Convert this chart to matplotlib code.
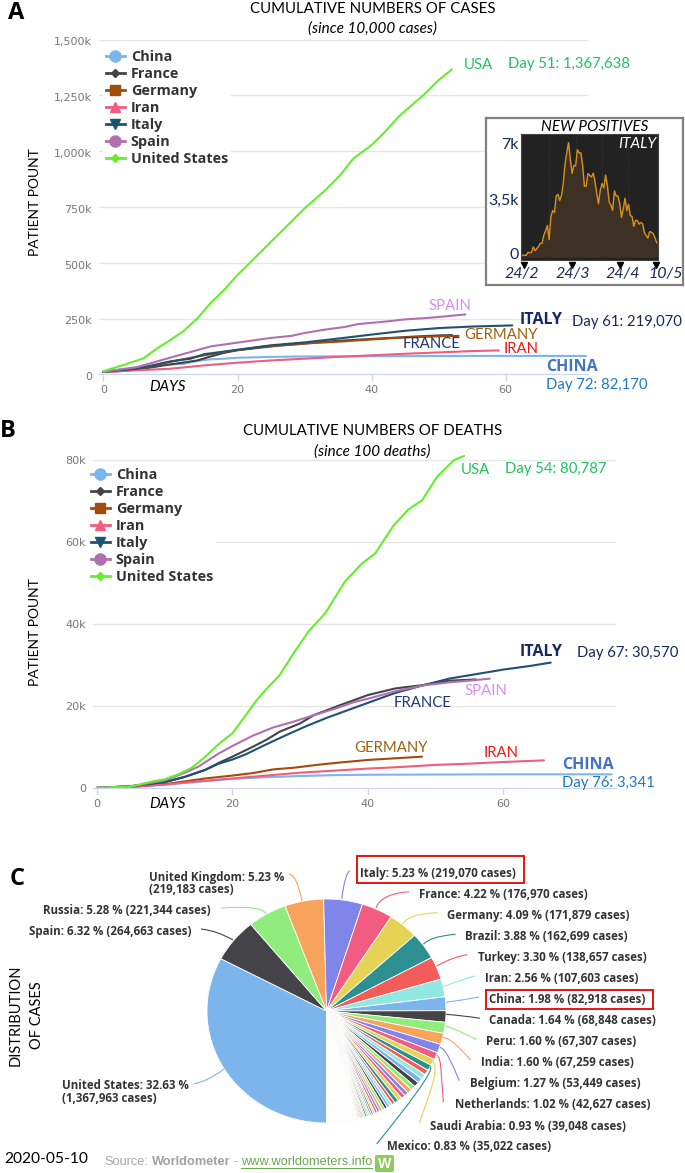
import matplotlib
matplotlib.use("Agg")
import matplotlib.pyplot as plt
from matplotlib.lines import Line2D
from matplotlib.path import Path
from matplotlib.patches import PathPatch, Rectangle, FancyBboxPatch
from matplotlib.transforms import ScaledTranslation

W, H = 685, 1173

# panel A, cases in thousands
china_days_a = [0,2,4,6,8,10,12,14,16,18,20,25,30,40,50,60,72]
china_a = [12,20,27,34,40,44,47,60,67,70,74,78,80,81,82,82.5,82.2]
france_days_a = [0,3,6,9,12,14,16,18,20,23,26,29,32,35,38,41,44,47,50,52]
france_a = [11,15,25,40,53,62,80,96,108,118,128,135,143,150,155,160,165,170,174,176]
germany_days_a = [0,3,6,9,12,15,18,21,24,27,30,35,40,45,50,53]
germany_a = [11,18,29,50,68,85,100,112,125,131,138,146,156,165,170,172]
iran_days_a = [0,5,10,15,20,25,30,35,40,45,50,55,59]
iran_a = [11,18,25,40,52,62,70,78,85,92,98,104,107]
italy_days_a = [0,5,10,13,15,20,25,30,35,40,45,50,55,61]
italy_a = [11,25,58,70,90,110,130,143,160,178,195,207,214,219]
spain_days_a = [0,5,10,13,16,20,25,28,30,33,36,38,42,45,49,54]
spain_a = [11,32,75,100,125,142,163,172,185,200,212,225,236,246,254,268]
us_days_a = [0,3,6,8,10,12,14,16,18,20,22,25,28,30,33,35.3,37.3,40,42,44,46,48,50,52]
us_a = [14,42,72,116,154,195,250,320,378,445,504,594,683,743,822,891,967,1027,1086,1153,1206,1258,1318,1366]

# panel B, deaths in thousands
china_days_b = [0,5,10,15,20,25,30,35,40,50,60,76]
china_b = [.1,.4,.9,1.6,2.3,2.7,3.0,3.2,3.3,3.35,3.4,3.4]
france_days_b = [0,5,10,13,16,18,20,23,25,27,30,32,36,40,44,48,52,56]
france_b = [.1,.5,1.5,2.8,4.5,6.2,7.7,10.1,11.8,13.8,15.8,17.8,20.3,22.7,24.3,25.1,26.2,26.5]
germany_days_b = [0,5,10,13,16,20,23,26,29,33,36,40,44,48]
germany_b = [.1,.3,1,1.7,2.4,3.1,3.7,4.6,5,5.8,6.3,6.9,7.3,7.7]
iran_days_b = [0,5,10,15,20,25,30,35,40,45,50,55,60,66]
iran_b = [.1,.4,.9,1.7,2.4,3.1,3.8,4.3,4.8,5.2,5.7,6,6.4,6.8]
italy_days_b = [0,5,10,13,16,18,20,22,25,28,31,34,37,40,44,48,52,56,60,64,67]
italy_b = [.1,.5,1.5,2.8,4.5,6,7,8.3,10.7,13,15.2,17.2,19,20.8,23.2,25,26.7,27.8,28.9,29.8,30.6]
spain_days_b = [0,5,10,13,15,18,20,23,26,29,32,35,38,40,44,48,52,55,58]
spain_b = [.1,.5,1.9,3.8,5.3,8.5,10.3,12.8,14.8,16.2,17.8,19.3,21,21.8,23.6,25,25.8,26.2,26.7]
us_days_b = [0,5,8,10,12,14,16,18,20,21.8,23.6,25.1,27,29,31.2,33.7,36.6,39.1,41.1,43.8,46,48,50.2,52.7,54.2]
us_b = [.1,.4,1.6,2.2,3.4,5,7.7,10.8,13.4,17.4,21.5,24.3,27.6,32.8,38.1,42.6,50.3,54.7,57.2,64,67.9,70.1,75.8,79.9,80.9]

# inset, Italy new positives 24/2 to 10/5
italy_new = [76,93,78,250,238,240,566,342,466,587,769,778,1247,1492,1797,977,2313,2651,2547,3497,
             3590,3233,3526,4207,5322,5986,6557,5560,4789,5249,5210,6153,5959,5974,5217,4050,4053,
             4782,4668,4585,4805,4316,3599,3039,3836,4204,3951,4694,4092,3153,2972,2667,3786,3493,
             3491,3047,2256,2729,3370,2646,3021,2357,2324,1739,2091,2086,1872,1965,1900,1389,1221,
             1075,1444,1401,1327,1083,802]

# panel C
pie_names = ["United States","Spain","Russia","United Kingdom","Italy","France","Germany","Brazil",
             "Turkey","Iran","China","Canada","Peru","India","Belgium","Netherlands","Saudi Arabia","Mexico"]
pie_pct = [32.63,6.32,5.28,5.23,5.23,4.22,4.09,3.88,3.30,2.56,1.98,1.64,1.60,1.60,1.27,1.02,.93,.83]
pie_cases = ["1,367,963","264,663","221,344","219,183","219,070","176,970","171,879","162,699",
             "138,657","107,603","82,918","68,848","67,307","67,259","53,449","42,627","39,048","35,022"]
pie_rest = [.73,.72,.72,.70,.66,.63,.57,.56,.56,.55,.44,.39,.39,.38,.37,.36,.35,.33,.26,.25,.24,.23,
            .22,.21,.20,.19,.18,.17,.16,.15] + [.06]*20 + [.04]*75
hc_colors = ["#7cb5ec","#434348","#90ed7d","#f7a35c","#8085e9","#f15c80","#e4d354","#2b908f","#f45b5b","#91e8e1"]

names = ["China","France","Germany","Iran","Italy","Spain","United States"]
colors = ["#7cb5ec","#434348","#a04c0c","#f15c80","#1d5273","#b070b0","#66ee2c"]
markers = ["o","D","s","^","v","o","D"]
msizes = [8,4.5,7,7,7,8,4.5]

NAVY = "#13295f"
BLUE2 = "#1f3a7a"
GREEN = "#1fc25f"
LILAC = "#d98cf5"
BROWN = "#a0620f"
RED = "#f01818"
CHINA = "#4472c4"
CHINA2 = "#1f78c4"
BOLD = "Open Sans"
plt.rcParams["font.family"] = "Lato"

fig = plt.figure(figsize=(W/100, H/100), dpi=100)

def px_axes(l, t, r, b, **kw):
    return fig.add_axes([l/W, 1-b/H, (r-l)/W, (b-t)/H], **kw)

def cum_axes(rect, xlim, ymax, yticks, ylabels, series, lw_pt, legend_xy, dy):
    ax = px_axes(*rect, zorder=1)
    ax.set_xlim(*xlim)
    ax.set_ylim(0, ymax)
    ax.grid(axis="y", color="#e6e6e6", lw=1)
    ax.set_axisbelow(True)
    for s in ["top","left","right"]:
        ax.spines[s].set_visible(False)
    ax.spines["bottom"].set_color("#ccd6eb")
    ax.set_xticks([0,20,40,60])
    ax.set_yticks(yticks)
    ax.set_yticklabels(ylabels)
    ax.tick_params(axis="x", length=5, width=1, color="#ccd6eb", labelcolor="#777777", labelsize=8, pad=3)
    ax.tick_params(axis="y", length=0, labelcolor="#777777", labelsize=8, pad=5)
    for lab in ax.get_xticklabels() + ax.get_yticklabels():
        lab.set_family("DejaVu Sans")
    for lab in ax.get_yticklabels():
        lab.set_transform(lab.get_transform() + ScaledTranslation(0, -dy/100, fig.dpi_scale_trans))
    for (d, v), c in zip(series, colors):
        ax.plot(d, v, color=c, lw=lw_pt, solid_capstyle="round", solid_joinstyle="round", clip_on=False)
    handles = [Line2D([], [], color=c, lw=2, marker=m, ms=s) for c, m, s in zip(colors, markers, msizes)]
    leg = ax.legend(handles, names, loc="upper left", bbox_to_anchor=(legend_xy[0]/W, 1-legend_xy[1]/H),
                    bbox_transform=fig.transFigure, handlelength=1.3, handletextpad=.42, labelspacing=.21,
                    borderpad=.2, borderaxespad=0, fancybox=False, framealpha=1, edgecolor="none",
                    prop={"family":BOLD,"weight":"bold","size":10.4})
    for t in leg.get_texts():
        t.set_color("#333333")
    return ax

series_a = [(china_days_a,china_a),(france_days_a,france_a),(germany_days_a,germany_a),(iran_days_a,iran_a),
            (italy_days_a,italy_a),(spain_days_a,spain_a),(us_days_a,us_a)]
series_b = [(china_days_b,china_b),(france_days_b,france_b),(germany_days_b,germany_b),(iran_days_b,iran_b),
            (italy_days_b,italy_b),(spain_days_b,spain_b),(us_days_b,us_b)]

cum_axes((99,39.5,588,374.3), (-0.67,72.3), 1500, [0,250,500,750,1000,1250,1500],
         ["0","250k","500k","750k","1,000k","1,250k","1,500k"], series_a, 1.5, (103,47), 2)
cum_axes((93,459.7,615.7,788.3), (-0.59,76.6), 80, [0,20,40,60,80],
         ["0","20k","40k","60k","80k"], series_b, 1.5, (88,465), 0)

# inset frame and chart
box = px_axes(486,117.7,683.3,285, zorder=2)
box.set_xticks([]); box.set_yticks([])
for s in box.spines.values():
    s.set_color("#808080"); s.set_linewidth(1.6)

ins = px_axes(521,134,658.3,260, zorder=3, facecolor="#222222")
days_new = list(range(len(italy_new)))
ins.fill_between(days_new, italy_new, color="#3d3024", zorder=2)
ins.plot(days_new, italy_new, color="#d8901c", lw=1, zorder=3)
ins.set_xlim(-0.96,76.9)
ins.set_ylim(-190,7056)
ins.set_xticks([15,30,45,60])
ins.set_xticklabels([])
ins.set_yticks([])
ins.tick_params(length=0)
ins.grid(axis="x", color="#3a3a3a", ls=":", lw=.6, zorder=1)
for s in ins.spines.values():
    s.set_color("#444444")

# pie, slightly wider than tall as in the source image
pie = px_axes(207,899,446,1123, zorder=1)
vals = pie_pct + pie_rest
cols = [hc_colors[i % 10] for i in range(len(vals))]
pie.pie(vals, colors=cols, startangle=270, counterclock=False, radius=1,
        wedgeprops={"edgecolor":"white","linewidth":.6})
pie.set_aspect("auto")
pie.set_xlim(-1,1); pie.set_ylim(-1,1)

# overlay in pixel coordinates for the hand placed labels
ov = fig.add_axes([0,0,1,1], zorder=5)
ov.set_xlim(0,W); ov.set_ylim(H,0); ov.axis("off")

def T(x, y, s, size=11, color="black", ha="left", **kw):
    return ov.text(x, y, s, fontsize=size, color=color, ha=ha, va="center", **kw)

for s, x, y in [("A",16,13),("B",8,431),("C",17,879)]:
    T(x, y, s, size=17, ha="center", weight="bold", family=BOLD)

T(372.7, 9, "CUMULATIVE NUMBERS OF CASES", size=10.8, ha="center")
T(372.7, 29, "(since 10,000 cases)", size=11, ha="center", style="italic")
T(372.5, 431, "CUMULATIVE NUMBERS OF DEATHS", size=10.8, ha="center")
T(372.5, 451.5, "(since 100 deaths)", size=11, ha="center", style="italic")
for y in [202, 631.7]:
    T(35, y, "PATIENT POUNT", size=10, ha="center", rotation=90)
T(149.3, 387, "DAYS", size=10.8, style="italic")
T(149.3, 804, "DAYS", size=10.8, style="italic")

labels_a = [(464,65,"USA",GREEN,0),(508.3,64,"Day 51: 1,367,638",GREEN,0),(428.3,306,"SPAIN",LILAC,0),
            (519.3,320.5,"ITALY",NAVY,1),(572.3,322,"Day 61: 219,070",NAVY,0),(464.3,334.7,"GERMANY",BROWN,0),
            (402.3,344,"FRANCE",BLUE2,0),(503.3,348.7,"IRAN",RED,0),(546,366.7,"CHINA",CHINA,1),
            (546,385,"Day 72: 82,170",CHINA2,0)]
labels_b = [(460.7,470,"USA",GREEN,0),(505.3,469,"Day 54: 80,787",GREEN,0),(519.3,651.5,"ITALY",NAVY,1),
            (577,653,"Day 67: 30,570",NAVY,0),(464,690.7,"SPAIN",LILAC,0),(394,702.7,"FRANCE",BLUE2,0),
            (354,748.3,"GERMANY",BROWN,0),(483.3,752.7,"IRAN",RED,0),(562.3,765,"CHINA",CHINA,1),
            (561.7,783.3,"Day 76: 3,341",CHINA2,0)]
for x, y, s, c, b in labels_a + labels_b:
    if b:
        T(x, y, s, size=11.5, color=c, weight="bold", family=BOLD)
    else:
        T(x, y, s, size=10.7, color=c)

# inset text
T(595, 127, "NEW POSITIVES", size=11, ha="center", style="italic")
T(657, 144, "ITALY", size=11, color="white", ha="right", style="italic")
for y, s in [(145,"7k"),(201,"3,5k"),(255,"0")]:
    T(519, y, s, size=11.5, color=NAVY, ha="right")
for x, s in [(521.7,"24/2"),(573,"24/3"),(622.7,"24/4"),(666,"10/5")]:
    T(x, 274, s, size=11.5, color=NAVY, ha="center", style="italic")
ov.plot([523.7,572.3,620,656], [264.5]*4, "v", color="black", ms=4.5)

# pie labels
label_xy = [(62.3,1085.7),(29.3,931.7),(43,910.7),(149,877),(360,873),(419.3,894),(447.3,915.7),(465.3,936.3),
            (478,957.3),(485.3,978),(489.3,999.3),(489.3,1020.7),(486.3,1041.7),(480.7,1062.3),(470,1083.7),
            (454.7,1104.3),(429.7,1126),(387.3,1147)]
leaders = [[(194,1083.7),(207,1081.7),(224,1069)],[(201,929),(217,930.7),(233,940)],
           [(221,908),(262,905),(266,914)],[(289,874),(294,875),(298,882),(302,901)],
           [(350,870.7),(345,873),(341.7,899)],[(409.3,891.7),(390,893.3),(380,898.3),(376,907.7)],
           [(437.3,912.7),(416.7,914),(408.3,916.7),(402.3,924)],[(455.7,934.3),(436.7,936),(428.3,939.3),(423.3,944.3)],
           [(467.3,954.7),(453.3,956.7),(436.7,966)],[(475,976),(460,980),(443.3,986.7)],
           [(479,997),(463.3,1000),(446,1002.3)],[(480,1018.3),(466.7,1016),(446,1014.3)],
           [(476.7,1039.3),(466.7,1035),(455,1028.3),(445,1026)],[(470.7,1060),(458.3,1046.7),(451.7,1039),(442.7,1037.3)],
           [(459.3,1080.7),(451.7,1063.3),(446.7,1050),(440,1047.3)],[(443.3,1102.3),(441,1073.3),(441.7,1058.3),(436.7,1055)],
           [(419.3,1123.3),(428.3,1096.7),(439.3,1071.7),(433.3,1061.7)],[(376.7,1144),(406.7,1106.7),(436,1069),(430,1066.7)]]
for i, name in enumerate(pie_names):
    x, y = label_xy[i]
    head = f"{name}: {pie_pct[i]:.2f} %"
    tail = f"({pie_cases[i]} cases)"
    if name in ("United States","United Kingdom"):
        T(x, y, head, size=8.3, color="#333333", weight="bold", family=BOLD)
        T(x, y+12.5, tail, size=8.3, color="#333333", weight="bold", family=BOLD)
    else:
        T(x, y, head + " " + tail, size=8.3, color="#333333", weight="bold", family=BOLD)
    p = leaders[i]
    code = Path.CURVE3 if len(p) == 3 else Path.CURVE4
    ov.add_patch(PathPatch(Path(p, [Path.MOVETO] + [code]*(len(p)-1)), fc="none", ec=cols[i], lw=.8))

ov.add_patch(Rectangle((356.7,855.7), 167.3, 27.6, fc="none", ec="#ee1111", lw=1.4))
ov.add_patch(Rectangle((485.7,990.3), 167.6, 19, fc="none", ec="#ee1111", lw=1.4))

T(16, 1015, "DISTRIBUTION", size=10.5, ha="center", rotation=90)
T(37, 1015, "OF CASES", size=10.5, ha="center", rotation=90)
T(4, 1159, "2020-05-10", size=11.2)

src_font = "Liberation Sans"
T(104, 1162, "Source:", size=9.2, color="#a8a8a8", family=src_font)
T(152, 1162, "Worldometer", size=9.2, color="#a0a0a0", family=src_font, weight="bold")
T(233, 1162, "-", size=9.2, color="#a8a8a8", family=src_font)
T(241, 1162, "www.worldometers.info", size=9.2, color="#6aa84f", family=src_font)
ov.plot([241,371.7], [1168,1168], color="#6aa84f", lw=.7)
ov.add_patch(FancyBboxPatch((377,1157), 15, 13, boxstyle="round,pad=2", fc="#8ccb5e", ec="none"))
T(384.5, 1163.5, "W", size=10, color="white", ha="center", weight="bold", family=BOLD)

fig.savefig("out.png", dpi=100)
